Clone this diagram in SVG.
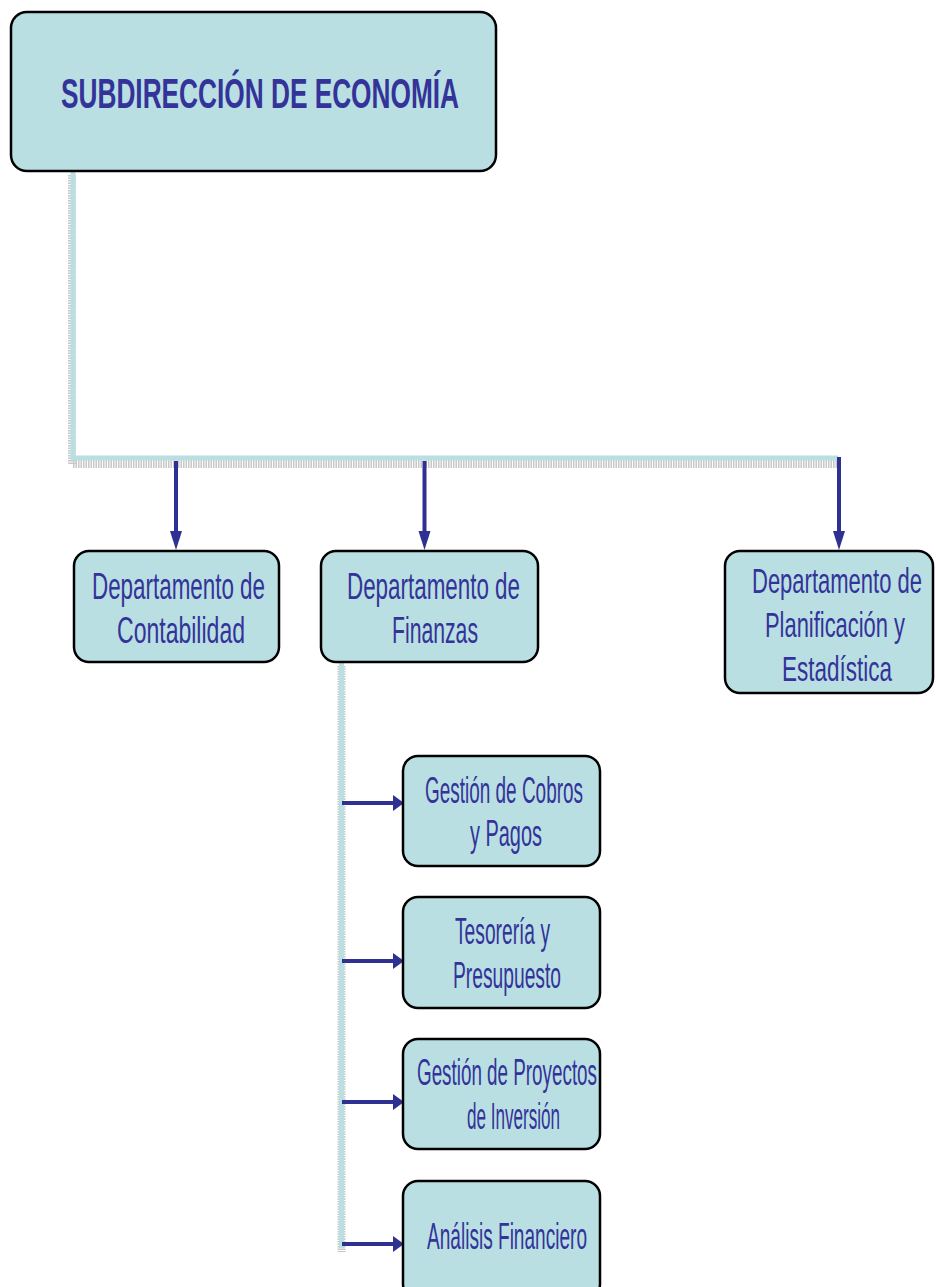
<svg xmlns="http://www.w3.org/2000/svg" width="936" height="1287" viewBox="0 0 936 1287">
  <style>
    .box { fill: #B9DFE3; stroke: #000; stroke-width: 2.5; }
    .lbl { font-family: "Liberation Sans", Arial, sans-serif; font-size: 36px; fill: #333399; }
    .title { font-family: "Liberation Sans", Arial, sans-serif; font-size: 42px; font-weight: bold; fill: #333399; }
    .trunk { fill: none; stroke: #B9DFE3; stroke-width: 5; }
    .shade { fill: none; stroke: #9a9a9a; stroke-width: 8; stroke-dasharray: 1.5 1; opacity: 0.55; }
    .arrow { stroke: #2E3192; stroke-width: 4; fill: none; }
    .head { fill: #2E3192; }
  </style>
  <rect width="936" height="1287" fill="#fff"/>

  <!-- connectors -->
  <g id="connectors">
    <!-- main trunk from the head office -->
    <polyline class="shade" points="72,175 72,464 838,464"/>
    <polyline class="trunk" points="73,171 73,458 838,458" stroke-width="6"/>
    <!-- branch under Finanzas -->
    <line class="shade" x1="341.5" y1="666" x2="341.5" y2="1252" stroke-width="7"/>
    <line class="trunk" x1="341.5" y1="662" x2="341.5" y2="1248" stroke-width="4"/>

    <!-- drops to departments -->
    <line class="arrow" x1="176" y1="461" x2="176" y2="533"/>
    <polygon class="head" points="170,531 182,531 176,550"/>
    <line class="arrow" x1="424.5" y1="461" x2="424.5" y2="533"/>
    <polygon class="head" points="418.5,531 430.5,531 424.5,550"/>
    <line class="arrow" x1="839" y1="457" x2="839" y2="533"/>
    <polygon class="head" points="833,531 845,531 839,550"/>

    <!-- branches to Finanzas sections -->
    <line class="arrow" x1="342" y1="803" x2="395" y2="803" stroke-width="3.5"/>
    <polygon class="head" points="393,795 404,803 393,811"/>
    <line class="arrow" x1="342" y1="961" x2="395" y2="961" stroke-width="3.5"/>
    <polygon class="head" points="393,953 404,961 393,969"/>
    <line class="arrow" x1="342" y1="1102" x2="395" y2="1102" stroke-width="3.5"/>
    <polygon class="head" points="393,1094 404,1102 393,1110"/>
    <line class="arrow" x1="342" y1="1244" x2="395" y2="1244" stroke-width="3.5"/>
    <polygon class="head" points="393,1236 404,1244 393,1252"/>
  </g>

  <g id="subdireccion">
    <rect class="box" x="11" y="12" width="485" height="159" rx="16"/>
    <text class="title" x="61" y="108" textLength="398" lengthAdjust="spacingAndGlyphs">SUBDIRECCIÓN DE ECONOMÍA</text>
  </g>

  <g id="contabilidad">
    <rect class="box" x="74" y="551" width="205" height="111" rx="15"/>
    <text class="lbl" x="92" y="599" textLength="173" lengthAdjust="spacingAndGlyphs">Departamento de</text>
    <text class="lbl" x="117" y="643" textLength="128" lengthAdjust="spacingAndGlyphs">Contabilidad</text>
  </g>

  <g id="finanzas">
    <rect class="box" x="321" y="551" width="217" height="111" rx="15"/>
    <text class="lbl" x="347" y="599" textLength="173" lengthAdjust="spacingAndGlyphs">Departamento de</text>
    <text class="lbl" x="392" y="643" textLength="86" lengthAdjust="spacingAndGlyphs">Finanzas</text>
  </g>

  <g id="planificacion">
    <rect class="box" x="725" y="551" width="208" height="142" rx="15"/>
    <!-- narrowed horizontally so the lines sit inside the box at the page edge -->
    <text class="lbl" transform="translate(752,593) scale(0.61,1)" textLength="278.7" lengthAdjust="spacingAndGlyphs">Departamento de</text>
    <text class="lbl" transform="translate(765,637) scale(0.61,1)" textLength="229.5" lengthAdjust="spacingAndGlyphs">Planificación y</text>
    <text class="lbl" transform="translate(782,681) scale(0.61,1)" textLength="180.3" lengthAdjust="spacingAndGlyphs">Estadística</text>
  </g>

  <g id="cobros-pagos">
    <rect class="box" x="403" y="756" width="197" height="110" rx="15"/>
    <text class="lbl" x="425" y="803" textLength="158" lengthAdjust="spacingAndGlyphs">Gestión de Cobros</text>
    <text class="lbl" x="470" y="846" textLength="72" lengthAdjust="spacingAndGlyphs">y Pagos</text>
  </g>

  <g id="tesoreria">
    <rect class="box" x="403" y="897" width="197" height="111" rx="15"/>
    <text class="lbl" x="455" y="944" textLength="95" lengthAdjust="spacingAndGlyphs">Tesorería y</text>
    <text class="lbl" x="453" y="988" textLength="108" lengthAdjust="spacingAndGlyphs">Presupuesto</text>
  </g>

  <g id="proyectos">
    <rect class="box" x="403" y="1039" width="197" height="110" rx="15"/>
    <text class="lbl" x="417" y="1085" textLength="180" lengthAdjust="spacingAndGlyphs">Gestión de Proyectos</text>
    <text class="lbl" x="467" y="1129" textLength="93" lengthAdjust="spacingAndGlyphs">de Inversión</text>
  </g>

  <g id="analisis">
    <rect class="box" x="403" y="1181" width="197" height="118" rx="15"/>
    <text class="lbl" x="427" y="1249" textLength="160" lengthAdjust="spacingAndGlyphs">Análisis Financiero</text>
  </g>
</svg>
